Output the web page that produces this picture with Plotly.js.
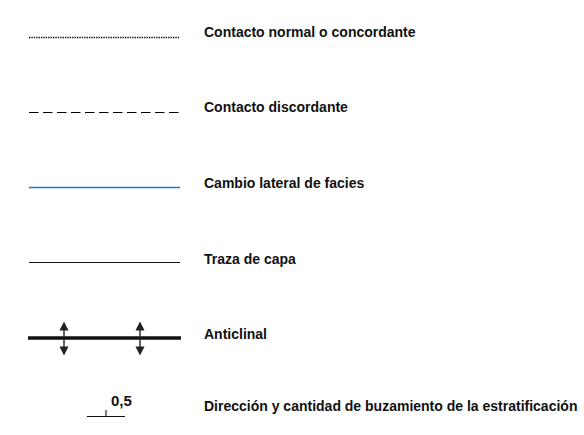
<!DOCTYPE html>
<html>
<head>
<meta charset="utf-8">
<script src="https://cdn.plot.ly/plotly-3.0.1.min.js"></script>
<style>html,body{margin:0;padding:0;background:#fff;}#chart{width:584px;height:435px;}</style>
</head>
<body>
<div id="chart"></div>
<script>
// Legend entries (data)
const labels = [
  "Contacto normal o concordante",
  "Contacto discordante",
  "Cambio lateral de facies",
  "Traza de capa",
  "Anticlinal",
  "Dirección y cantidad de buzamiento de la estratificación"
];
const symbolKinds = ["dotted", "dashed", "blue", "thin", "anticline", "dip"];
const dipValueLabel = "0,5";

// Layout constants (positions / styles)
const rowY = [37.5, 112.5, 187.5, 262.5, 338, 416.5];
const textY = [31.5, 106.5, 183, 258.5, 333.5, 406];
const symX0 = 29, symX1 = 180, textX = 202;
const anticlineArrowX = [64, 140];
const fontFam = "Liberation Sans, Arial, Helvetica, sans-serif";

const traces = [];
const annotations = [];
symbolKinds.forEach((k, i) => {
  const y = rowY[i];
  if (k === "dotted") {
    traces.push({x:[symX0, symX1], y:[y, y], mode:"lines", line:{color:"#000", width:1.5, dash:"1.3px,1.1px"}, hoverinfo:"skip"});
  } else if (k === "dashed") {
    traces.push({x:[symX0, symX1], y:[y, y], mode:"lines", line:{color:"#000", width:1.2, dash:"9.5px,4.5px"}, hoverinfo:"skip"});
  } else if (k === "blue") {
    traces.push({x:[symX0, symX1], y:[y, y], mode:"lines", line:{color:"#2377c2", width:1.5}, hoverinfo:"skip"});
  } else if (k === "thin") {
    traces.push({x:[symX0, symX1], y:[y, y], mode:"lines", line:{color:"#111", width:1.2}, hoverinfo:"skip"});
  } else if (k === "anticline") {
    traces.push({x:[symX0 - 1, symX1 + 1], y:[y, y], mode:"lines", line:{color:"#111", width:3.6}, hoverinfo:"skip"});
    anticlineArrowX.forEach(ax => {
      annotations.push({x:ax, y:y - 16.5, ax:ax, ay:y + 19, xref:"x", yref:"y", axref:"x", ayref:"y",
        showarrow:true, arrowhead:2, startarrowhead:2, arrowside:"end+start", arrowsize:1.3, startarrowsize:1.3,
        arrowwidth:1.4, arrowcolor:"#222", text:""});
    });
  } else if (k === "dip") {
    traces.push({x:[87, 125], y:[y, y], mode:"lines", line:{color:"#111", width:1.1}, hoverinfo:"skip"});
    traces.push({x:[106, 106], y:[y, y - 6.5], mode:"lines", line:{color:"#111", width:1.1}, hoverinfo:"skip"});
    annotations.push({x:121, y:textY[i] - 6, xref:"x", yref:"y", text:"<b>" + dipValueLabel + "</b>", showarrow:false,
      xanchor:"center", yanchor:"middle", font:{family:fontFam, size:15, color:"#111"}});
  }
  annotations.push({x:textX, y:textY[i], xref:"x", yref:"y", text:"<b>" + labels[i] + "</b>", showarrow:false,
    xanchor:"left", yanchor:"middle", font:{family:fontFam, size:14, color:"#111"}});
});

const layout = {
  width:584, height:435,
  margin:{l:0, r:0, t:0, b:0, pad:0},
  paper_bgcolor:"#fff", plot_bgcolor:"#fff",
  showlegend:false,
  xaxis:{range:[0,584], visible:false, fixedrange:true},
  yaxis:{range:[435,0], visible:false, fixedrange:true},
  annotations:annotations
};
Plotly.newPlot("chart", traces, layout, {staticPlot:true, displayModeBar:false});
</script>
</body>
</html>
